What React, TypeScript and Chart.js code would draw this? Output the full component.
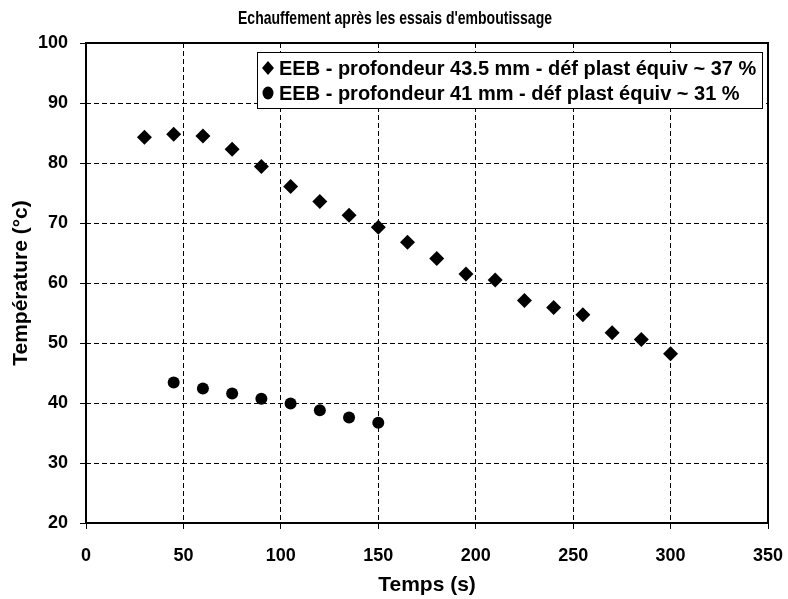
import React, { useEffect, useRef } from "react";
import { Chart, registerables } from "chart.js";

Chart.register(...registerables);

const titleText = "Echauffement après les essais d'emboutissage";
const xTitle = "Temps (s)";
const yTitle = "Température (°c)";

const series1Label = "EEB - profondeur 43.5 mm - déf plast équiv ~ 37 %";
const series1X = [30, 45, 60, 75, 90, 105, 120, 135, 150, 165, 180, 195, 210, 225, 240, 255, 270, 285, 300];
const series1Y = [84.3, 84.8, 84.5, 82.3, 79.4, 76.1, 73.6, 71.3, 69.3, 66.8, 64.1, 61.5, 60.5, 57.1, 55.9, 54.7, 51.7, 50.6, 48.2];

const series2Label = "EEB - profondeur 41 mm - déf plast équiv ~ 31 %";
const series2X = [45, 60, 75, 90, 105, 120, 135, 150];
const series2Y = [43.4, 42.4, 41.6, 40.7, 39.9, 38.8, 37.6, 36.7];

const xMin = 0, xMax = 350, xStep = 50;
const yMin = 20, yMax = 100, yStep = 10;

const FONT = '"Liberation Sans", Arial, sans-serif';

const framePlugin = {
  id: "frameAndLegend",
  afterDraw(chart: any) {
    const { ctx, chartArea } = chart;
    ctx.save();
    // plot frame
    ctx.strokeStyle = "#000";
    ctx.lineWidth = 2;
    ctx.strokeRect(chartArea.left, chartArea.top, chartArea.right - chartArea.left, chartArea.bottom - chartArea.top);

    // title (horizontally condensed)
    ctx.save();
    ctx.fillStyle = "#000";
    ctx.font = `bold 19px ${FONT}`;
    const tw = ctx.measureText(titleText).width;
    const sx = 314 / tw;
    ctx.translate(395, 19);
    ctx.scale(sx, 1);
    ctx.textAlign = "center";
    ctx.textBaseline = "middle";
    ctx.fillText(titleText, 0, 0);
    ctx.restore();

    // legend inside the plot area, top-right
    ctx.font = `bold 20px ${FONT}`;
    const ds = chart.data.datasets;
    let maxW = 0;
    ds.forEach((d: any) => { maxW = Math.max(maxW, ctx.measureText(d.label).width); });
    const boxW = 23 + maxW + 5;
    const boxH = 56;
    const right = chartArea.right - 6;
    const left = Math.round(right - boxW);
    const top = chartArea.top + 9;
    ctx.fillStyle = "#fff";
    ctx.fillRect(left, top, right - left, boxH);
    ctx.lineWidth = 1;
    ctx.strokeStyle = "#000";
    ctx.strokeRect(left + 0.5, top + 0.5, right - left, boxH);
    ds.forEach((d: any, i: number) => {
      const cy = top + 16 + i * 25;
      const cx = left + 11;
      ctx.fillStyle = "#000";
      ctx.beginPath();
      if (d.pointStyle === "rectRot") {
        ctx.moveTo(cx, cy - 7);
        ctx.lineTo(cx + 6, cy);
        ctx.lineTo(cx, cy + 7);
        ctx.lineTo(cx - 6, cy);
        ctx.closePath();
      } else {
        ctx.ellipse(cx, cy, 5.5, 6.5, 0, 0, Math.PI * 2);
      }
      ctx.fill();
      ctx.textBaseline = "middle";
      ctx.textAlign = "left";
      ctx.fillText(d.label, left + 22, cy + 1);
    });
    ctx.restore();
  },
};

export default function App() {
  const ref = useRef<HTMLCanvasElement>(null);
  useEffect(() => {
    if (!ref.current) return;
    const chart = new Chart(ref.current, {
      type: "scatter",
      data: {
        datasets: [
          {
            label: series1Label,
            data: series1X.map((x, i) => ({ x, y: series1Y[i] })),
            pointStyle: "rectRot",
            pointRadius: 7.5,
            backgroundColor: "#000",
            borderColor: "#000",
            borderWidth: 0,
          },
          {
            label: series2Label,
            data: series2X.map((x, i) => ({ x, y: series2Y[i] })),
            pointStyle: "circle",
            pointRadius: 6,
            backgroundColor: "#000",
            borderColor: "#000",
            borderWidth: 0,
          },
        ],
      },
      options: {
        responsive: false,
        animation: false,
        layout: { padding: { left: 0, right: 20, top: 43, bottom: 0 } },
        plugins: {
          legend: { display: false },
          tooltip: { enabled: false },
          title: { display: false },
        },
        scales: {
          x: {
            type: "linear",
            min: xMin,
            max: xMax,
            ticks: { stepSize: xStep, color: "#000", font: { family: FONT, size: 18, weight: "bold" }, padding: 16 },
            grid: { color: "#000", lineWidth: 1, tickLength: 6, tickColor: "#000" },
            border: { display: false, dash: [5, 3] },
            title: { display: true, text: xTitle, color: "#000", font: { family: FONT, size: 21, weight: "bold" }, padding: { top: 0, bottom: 1 } },
            afterFit(scale: any) { scale.height = 76; scale.paddingLeft = 0; scale.paddingRight = 0; },
          } as any,
          y: {
            type: "linear",
            min: yMin,
            max: yMax,
            ticks: { stepSize: yStep, color: "#000", font: { family: FONT, size: 18, weight: "bold" }, padding: 12 },
            grid: { color: "#000", lineWidth: 1, tickLength: 6, tickColor: "#000" },
            border: { display: false, dash: [5, 3] },
            title: { display: true, text: yTitle, color: "#000", font: { family: FONT, size: 21, weight: "bold" }, padding: { top: 9, bottom: 0 } },
            afterFit(scale: any) { scale.width = 86; scale.paddingTop = 0; scale.paddingBottom = 0; },
          } as any,
        },
      },
      plugins: [framePlugin],
    });
    return () => chart.destroy();
  }, []);
  return (
    <div style={{ position: "fixed", left: 0, top: 0, width: 788, height: 599, background: "#fff" }}>
      <canvas ref={ref} width={788} height={599} style={{ display: "block" }} />
    </div>
  );
}
